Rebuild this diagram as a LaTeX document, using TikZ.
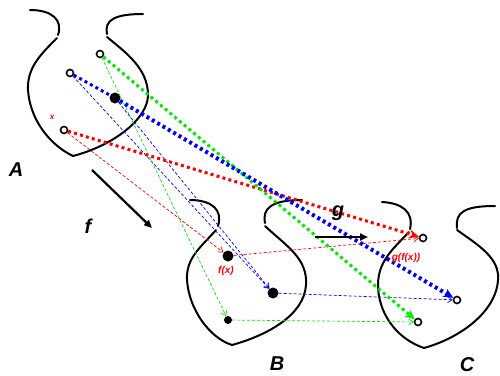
\documentclass[tikz,border=0pt]{standalone}
\usepackage{fontspec}
\setmainfont{Liberation Sans}
\usetikzlibrary{arrows.meta}
\definecolor{ptgreen}{RGB}{0,235,0}
\begin{document}
\begin{tikzpicture}[x=1pt, y=-1pt,
    set/.style={line width=2pt, line cap=round},
    ring/.style={circle, draw, line width=1.6pt, fill=white, minimum size=7pt, inner sep=0pt},
    bigdot/.style={circle, fill, minimum size=11pt, inner sep=0pt},
    smalldot/.style={circle, fill, minimum size=8pt, inner sep=0pt},
    gfline/.style={line width=3pt, dash pattern=on 3pt off 3.2pt, -{Stealth[length=10pt,width=9pt]}},
    fline/.style={line width=0.7pt, dash pattern=on 3pt off 2pt, -{Straight Barb[length=4.5pt,width=6pt]}},
    maparrow/.style={line width=2.2pt, -{Triangle[length=8pt,width=7pt]}},
    setlabel/.style={font=\fontsize{20}{20}\selectfont\bfseries\itshape},
    ptlabel/.style={red, font=\fontsize{10}{10}\selectfont\bfseries\itshape}]
    \useasboundingbox (0,0) rectangle (500,375);

    % Set A
    \draw[set] (30,10) .. controls (52,10) and (63,20) .. (58,35);
    \draw[set] (57,38) .. controls (40,55) and (27,68) .. (28,90) .. controls (30,120) and (50,145) .. (73,156);
    \draw[set] (107,37) .. controls (125,52) and (148,68) .. (148,95) .. controls (148,118) and (115,145) .. (73,156);
    \draw[set] (107,34) .. controls (104,20) and (115,14) .. (143,14);

    % Set B
    \draw[set] (190,200) .. controls (212,200) and (223,210) .. (218,226);
    \draw[set] (216,230) .. controls (200,248) and (186,258) .. (187,280) .. controls (189,310) and (210,338) .. (232,345);
    \draw[set] (265,226) .. controls (285,245) and (308,258) .. (306,285) .. controls (304,315) and (268,335) .. (232,345);
    \draw[set] (265,223) .. controls (262,208) and (272,200) .. (302,200);

    % Set C
    \draw[set] (382,202) .. controls (402,203) and (414,212) .. (410,229);
    \draw[set] (409,232) .. controls (392,250) and (377,262) .. (378,288) .. controls (380,318) and (400,340) .. (424,348);
    \draw[set] (457,230) .. controls (478,245) and (500,258) .. (498,280) .. controls (496,312) and (460,338) .. (424,348);
    \draw[set] (457,228) .. controls (455,212) and (465,206) .. (495,206);

    % Points
    \node[ring] (ax) at (64,130) {};
    \node[ring] (ay) at (70,73) {};
    \node[ring] (az) at (100,54) {};
    \node[bigdot] (am) at (115,98) {};
    \node[bigdot] (bx) at (228,256) {};
    \node[bigdot] (by) at (273,293) {};
    \node[smalldot] (bz) at (228,320) {};
    \node[ring] (cx) at (423,238) {};
    \node[ring] (cy) at (457,300) {};
    \node[ring] (cz) at (418,322) {};

    % f and g, point by point
    \foreach \s/\col in {x/red, y/blue, z/ptgreen} {
        \draw[fline, \col] (a\s) -- (b\s);
        \draw[fline, \col] (b\s) -- (c\s);
    }
    \draw[fline, blue] (am) -- (by);

    % Composite g(f(x))
    \foreach \s/\col in {x/red, z/ptgreen} {
        \draw[gfline, \col] (a\s) -- (c\s);
    }
    \draw[gfline, blue, -] (ay) -- (am);
    \draw[gfline, blue, line width=4pt] (am) -- (cy);

    % Maps
    \coordinate (f1) at (92,170);
    \coordinate (f2) at (152,228);
    \coordinate (g1) at (315,237);
    \coordinate (g2) at (368,237);
    \draw[maparrow] (f1) -- (f2);
    \draw[maparrow] (g1) -- (g2);

    % Labels
    \node[setlabel] (la) at (16,170) {A};
    \node[setlabel] (lb) at (277,364) {B};
    \node[setlabel] (lc) at (467,365) {C};
    \node[setlabel] (lf) at (88,226) {f};
    \node[setlabel] (lg) at (338,213) {g};
    \node[ptlabel, font=\fontsize{8}{8}\selectfont\bfseries\itshape] (lx) at (52,117) {x};
    \node[ptlabel] (lfx) at (226,271) {f(x)};
    \node[ptlabel] (lgfx) at (406,258) {g(f(x))};
\end{tikzpicture}
\end{document}
